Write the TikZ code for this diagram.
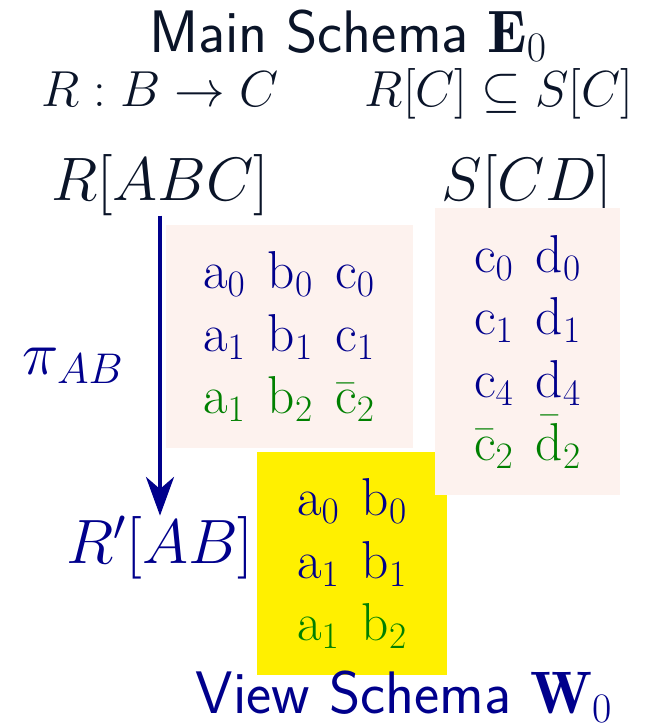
\RequirePackage{fix-cm}
\documentclass[tikz,border=0pt]{standalone}
\usepackage{fontspec}
\usetikzlibrary{arrows.meta}
\definecolor{ink}{RGB}{10,20,40}
\definecolor{viewblue}{RGB}{0,0,140}
\definecolor{newgreen}{RGB}{0,128,0}
\definecolor{tablepink}{RGB}{253,242,238}
\definecolor{viewyellow}{RGB}{255,240,0}
\newcommand{\tv}[2]{$\mathrm{#1}_{#2}$}
\newcommand{\tvbar}[2]{$\bar{\mathrm{#1}}_{#2}$}
\newcommand{\gap}{\hspace{0.42em}}
\begin{document}
\begin{tikzpicture}[x=0.75pt, y=-0.75pt,
  lbl/.style={inner sep=0pt, text=ink},
  tuples/.style={inner sep=0pt, text=viewblue, align=left,
    font=\fontsize{40}{47}\selectfont},
  proj/.style={line width=3pt, draw=viewblue,
    -{Stealth[length=29pt, width=21pt, inset=9pt]}}]
\useasboundingbox (0,0) rectangle (647,726);
% headings
\node[lbl, anchor=base, font=\sffamily\fontsize{45}{45}\selectfont] (main) at (348,52) {Main Schema $\mathbf{E}_0$};
\node[lbl, anchor=base, font=\fontsize{38}{38}\selectfont] (fd) at (160,106) {$R : B \to C$};
\node[lbl, anchor=base, font=\fontsize{38}{38}\selectfont] (ind) at (499,106) {$R[C] \subseteq S[C]$};
\node[lbl, anchor=base, font=\fontsize{46}{46}\selectfont] (rabc) at (160,200) {$R[ABC]$};
\node[lbl, anchor=base, font=\fontsize{46}{46}\selectfont] (scd) at (527,200) {$S[CD]$};
\node[lbl, anchor=base, text=viewblue, font=\fontsize{47}{47}\selectfont] (rab) at (160,563) {$R'[AB]$};
% tables
\node[tuples, fill=tablepink, minimum width=185.25pt, minimum height=167.25pt] (rtab) at (289,336.5)
  {\tv{a}{0}\gap\tv{b}{0}\gap\tv{c}{0}\\
   \tv{a}{1}\gap\tv{b}{1}\gap\tv{c}{1}\\
   \color{newgreen}\tv{a}{1}\gap\tv{b}{2}\gap\tvbar{c}{2}};
\node[tuples, fill=viewyellow, minimum width=142.5pt, minimum height=167.25pt] (vtab) at (352,563.5)
  {\tv{a}{0}\gap\tv{b}{0}\\
   \tv{a}{1}\gap\tv{b}{1}\\
   \color{newgreen}\tv{a}{1}\gap\tv{b}{2}};
\node[tuples, fill=tablepink, minimum width=138.75pt, minimum height=215.25pt] (stab) at (527.5,351.5)
  {\tv{c}{0}\gap\tv{d}{0}\\
   \tv{c}{1}\gap\tv{d}{1}\\
   \tv{c}{4}\gap\tv{d}{4}\\
   \color{newgreen}\tvbar{c}{2}\gap\tvbar{d}{2}};
% projection
\draw[proj] (rabc) -- (rab)
  node[midway, left=26pt, inner sep=0pt, text=viewblue, font=\fontsize{46}{46}\selectfont] (pi) {$\pi_{AB}$};
\node[lbl, anchor=base, text=viewblue, font=\sffamily\fontsize{45}{45}\selectfont] (view) at (404,713) {View Schema $\mathbf{W}_0$};
\end{tikzpicture}
\end{document}
